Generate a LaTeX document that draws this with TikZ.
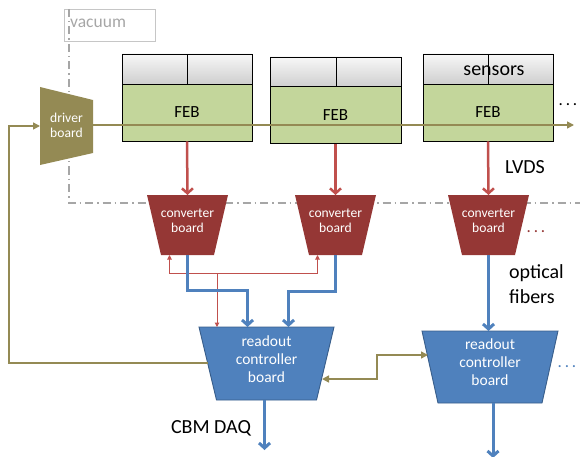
\documentclass[tikz,border=0pt]{standalone}
\usepackage{fontspec}
\setmainfont{Carlito}
\usetikzlibrary{arrows.meta,calc}

\definecolor{drvcol}{HTML}{948A54}
\definecolor{febgreen}{HTML}{C3D69B}
\definecolor{convred}{HTML}{953735}
\definecolor{roblue}{HTML}{4F81BD}
\definecolor{roborder}{HTML}{385D8A}
\definecolor{lvdsred}{HTML}{C0504D}
\definecolor{ctlred}{HTML}{C0504D}
\definecolor{vacgray}{HTML}{A6A6A6}

% trapezoid board: name, centre x, centre y, top width, bottom width, height, fill style
\newcommand{\trapboard}[7]{%
  \path[#7] ({#2-#4/2},{#3-#6/2}) -- ({#2+#4/2},{#3-#6/2})
    -- ({#2+#5/2},{#3+#6/2}) -- ({#2-#5/2},{#3+#6/2}) -- cycle;
  \node[minimum width=#4pt, minimum height=#6pt, inner sep=0pt, outer sep=0pt] (#1) at (#2,#3) {};}

\begin{document}
\begin{tikzpicture}[x=1pt,y=-1pt,
  boardtxt/.style={text=white, align=center, inner sep=0pt},
  convtxt/.style={boardtxt, font=\fontsize{13.6}{15}\selectfont},
  rotxt/.style={boardtxt, font=\fontsize{15.5}{18}\selectfont},
  label/.style={inner sep=0pt, font=\fontsize{20}{25}\selectfont},
  febbox/.style={draw=black, line width=0.9pt, fill=febgreen, inner sep=0pt,
    minimum height=57pt, font=\fontsize{17}{20}\selectfont},
  sensorbox/.style={draw=black, line width=0.9pt, top color=gray!6, bottom color=gray!38,
    minimum width=65pt, minimum height=30pt, inner sep=0pt},
  vacline/.style={draw=vacgray, line width=1.4pt, dash pattern=on 8pt off 4pt on 1.5pt off 4pt},
  lvds/.style={draw=lvdsred, line width=2.5pt, -{Straight Barb[length=5pt,width=11pt]}},
  fiber/.style={draw=roblue, line width=3pt, -{Straight Barb[length=5pt,width=11pt]}},
  ctrl/.style={draw=drvcol, line width=1.5pt, -{Triangle[length=7pt,width=7pt]}},
  ctrlboth/.style={ctrl, {Triangle[length=7pt,width=7pt]}-{Triangle[length=7pt,width=7pt]}},
  ctl/.style={draw=ctlred, line width=1pt, -{Triangle[length=4.5pt,width=4.5pt]}},
  dots/.style={inner sep=0pt, font=\fontsize{17}{17}\selectfont}]
\useasboundingbox (0,0) rectangle (580,457);

% vacuum boundary
\node[draw=gray!45, line width=0.8pt, minimum width=91pt, minimum height=32pt, inner sep=0pt]
  (vacbox) at (109.5,25) {};
\node[text=vacgray, inner sep=0pt, font=\fontsize{17.5}{20}\selectfont, anchor=west] (vactxt) at (70,23) {vacuum};
\coordinate (vactop) at (69,9);
\coordinate (vaccorner) at (69,203);
\coordinate (vacend) at (580,203);
\draw[vacline] (vactop) -- (vaccorner) -- (vacend);

% driver board
\path[fill=drvcol] (40,87) -- (93,100) -- (93,153) -- (40,165) -- cycle;
\node[minimum width=53pt, minimum height=78pt, inner sep=0pt, outer sep=0pt] (driver) at (66.5,126) {};
\node[convtxt] (drvtxt) at (66.5,125) {driver\\board};

% sensors and front-end boards
\node[sensorbox] (s1a) at (154.5,69) {};
\node[sensorbox] (s1b) at (219.5,69) {};
\node[febbox, minimum width=130pt] (feb1) at (187,112.5) {FEB};
\node[sensorbox, minimum width=66pt] (s2a) at (303,72) {};
\node[sensorbox] (s2b) at (368.5,72) {};
\node[febbox, minimum width=131pt] (feb2) at (335.5,115) {FEB};
\node[sensorbox] (s3a) at (455.5,69) {};
\node[sensorbox] (s3b) at (520.5,69) {};
\node[febbox, minimum width=130pt] (feb3) at (488,112.5) {FEB};
\node[inner sep=0pt, font=\fontsize{20}{24}\selectfont] (senstxt) at (494,71) {sensors};
\node[dots] (febdots) at (568,105) {.\,.\,.};

% converter boards
\trapboard{c1}{187.5}{225}{81}{53}{60}{fill=convred}
\trapboard{c2}{335.5}{225}{81}{53}{60}{fill=convred}
\trapboard{c3}{488.5}{225}{81}{53}{60}{fill=convred}
\node[convtxt] (c1txt) at (187.5,221) {converter\\board};
\node[convtxt] (c2txt) at (335.5,221) {converter\\board};
\node[convtxt] (c3txt) at (488.5,221) {converter\\board};
\node[dots, text=convred] (convdots) at (536,232) {.\,.\,.};

% readout controller boards
\trapboard{ro1}{266.5}{363.5}{135}{100}{73}{fill=roblue, draw=roborder, line width=0.9pt}
\trapboard{ro2}{490}{367}{136}{104}{72}{fill=roblue, draw=roborder, line width=0.9pt}
\node[rotxt] (ro1txt) at (266.5,359) {readout\\controller\\board};
\node[rotxt] (ro2txt) at (490,362) {readout\\controller\\board};
\node[dots, text=roblue] (rodots) at (567,367) {.\,.\,.};

% labels
\node[label] (lvdstxt) at (525,167) {LVDS};
\node[label, align=left, anchor=west] (optxt) at (509,284) {optical\\fibers};
\node[label] (daqtxt) at (211,428) {CBM DAQ};

% LVDS links
\draw[lvds] (feb1.south) -- (c1.north);
\draw[lvds] (feb2.south) -- (c2.north);
\draw[lvds] (feb3.south) -- (c3.north);

% control lines from the readout board to the converters
\coordinate (ctlj) at (217,273);
\draw[ctl] (ctlj) -- (ctlj |- ro1.north);
\draw[ctl] (ctlj) -| ($(c1.south)+(-18,0)$);
\draw[ctl] (ctlj) -| ($(c2.south)+(-18,0)$);

% optical fibres
\draw[fiber] (c1.south) -- ++(0,35) -| ($(ro1.north)+(-19,0)$);
\draw[fiber] (c2.south) -- ++(0,36) -| ($(ro1.north)+(22,0)$);
\draw[fiber] (c3.south) -- (c3.south |- ro2.north);
\coordinate (daqend) at ($(ro1.south)+(-2,50)$);
\draw[fiber] (ro1.south -| daqend) -- (daqend);
\coordinate (ro2end) at ($(ro2.south)+(3,55)$);
\draw[fiber] (ro2.south -| ro2end) -- (ro2end);

% clock and control chain
\coordinate (drvout) at (87,125);
\coordinate (chainend) at (574,125);
\draw[ctrl] (drvout) -- (chainend);
\coordinate (ro1fb) at (208,363);
\coordinate (fbleft) at (9,363);
\draw[ctrl] (ro1fb) -- (fbleft) |- (driver.west);
\coordinate (ro1e) at (322,379);
\coordinate (ro2w) at (428,355);
\draw[ctrlboth] (ro1e) -- (377,379) |- (ro2w);
\end{tikzpicture}
\end{document}
